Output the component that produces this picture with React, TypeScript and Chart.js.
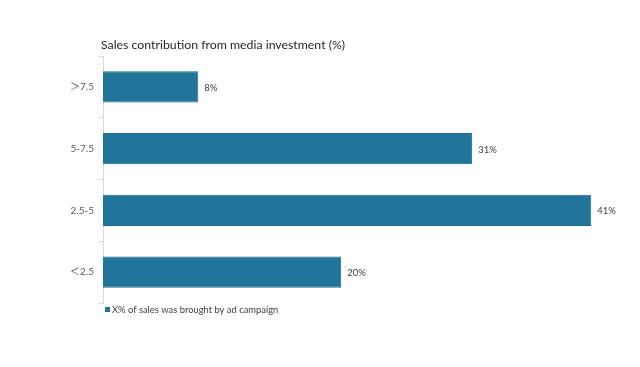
import React, { useEffect, useRef } from "react";
import { Chart, registerables } from "chart.js";

Chart.register(...registerables);

const categories = ["＞7.5", "5-7.5", "2.5-5", "＜2.5"];
const values = [8, 31, 41, 20];
const seriesLabel = "X% of sales was brought by ad campaign";
const titleText = "Sales contribution from media investment (%)";

const BAR_COLOR = "#21759b";
const FONT = "Lato, 'Noto Sans', 'Noto Sans CJK SC', sans-serif";

const overlayPlugin = {
  id: "overlay",
  afterDatasetsDraw(chart: any) {
    const { ctx, chartArea } = chart;
    const meta = chart.getDatasetMeta(0);
    ctx.save();
    // value labels
    ctx.font = `9.5px ${FONT}`;
    ctx.fillStyle = "#404040";
    ctx.textAlign = "left";
    ctx.textBaseline = "middle";
    meta.data.forEach((bar: any, i: number) => {
      ctx.fillText(values[i] + "%", bar.x + 6, bar.y + 1);
    });
    // title
    ctx.font = `12.3px ${FONT}`;
    ctx.fillStyle = "#262626";
    ctx.textBaseline = "alphabetic";
    ctx.fillText(titleText, chartArea.left - 2, chartArea.top - 7);
    // legend
    ctx.fillStyle = BAR_COLOR;
    ctx.fillRect(chartArea.left + 2, chartArea.bottom + 4, 5, 5);
    ctx.font = `9.4px ${FONT}`;
    ctx.fillStyle = "#404040";
    ctx.textBaseline = "middle";
    ctx.fillText(seriesLabel, chartArea.left + 9, chartArea.bottom + 7);
    ctx.restore();
  },
};

export default function App() {
  const ref = useRef<HTMLCanvasElement>(null);
  useEffect(() => {
    if (!ref.current) return;
    const chart = new Chart(ref.current, {
      type: "bar",
      data: {
        labels: categories,
        datasets: [
          {
            label: seriesLabel,
            data: values,
            backgroundColor: BAR_COLOR,
            borderColor: "#1d6a8c",
            borderWidth: 1,
            categoryPercentage: 1,
            barPercentage: 0.51,
          },
        ],
      },
      options: {
        indexAxis: "y",
        animation: false,
        responsive: false,
        maintainAspectRatio: false,
        layout: { padding: { left: 0, right: 13, top: 56, bottom: 64 } },
        plugins: {
          legend: { display: false },
          title: { display: false },
          tooltip: { enabled: false },
        },
        scales: {
          x: { display: false, min: 0, max: 44 },
          y: {
            offset: true,
            afterFit(scale: any) {
              scale.width = 103;
            },
            border: { display: true, color: "#d9d9d9", width: 1 },
            grid: {
              offset: true,
              drawOnChartArea: false,
              drawTicks: true,
              tickLength: 4,
              color: "#d9d9d9",
            },
            ticks: {
              font: { size: 10, family: FONT },
              color: "#595959",
              padding: 5,
            },
          },
        },
      },
      plugins: [overlayPlugin],
    });
    return () => chart.destroy();
  }, []);
  return (
    <div style={{ position: "absolute", left: 0, top: 0, width: 640, height: 367, background: "#fff" }}>
      <canvas ref={ref} width={640} height={367} style={{ width: 640, height: 367 }} />
    </div>
  );
}
